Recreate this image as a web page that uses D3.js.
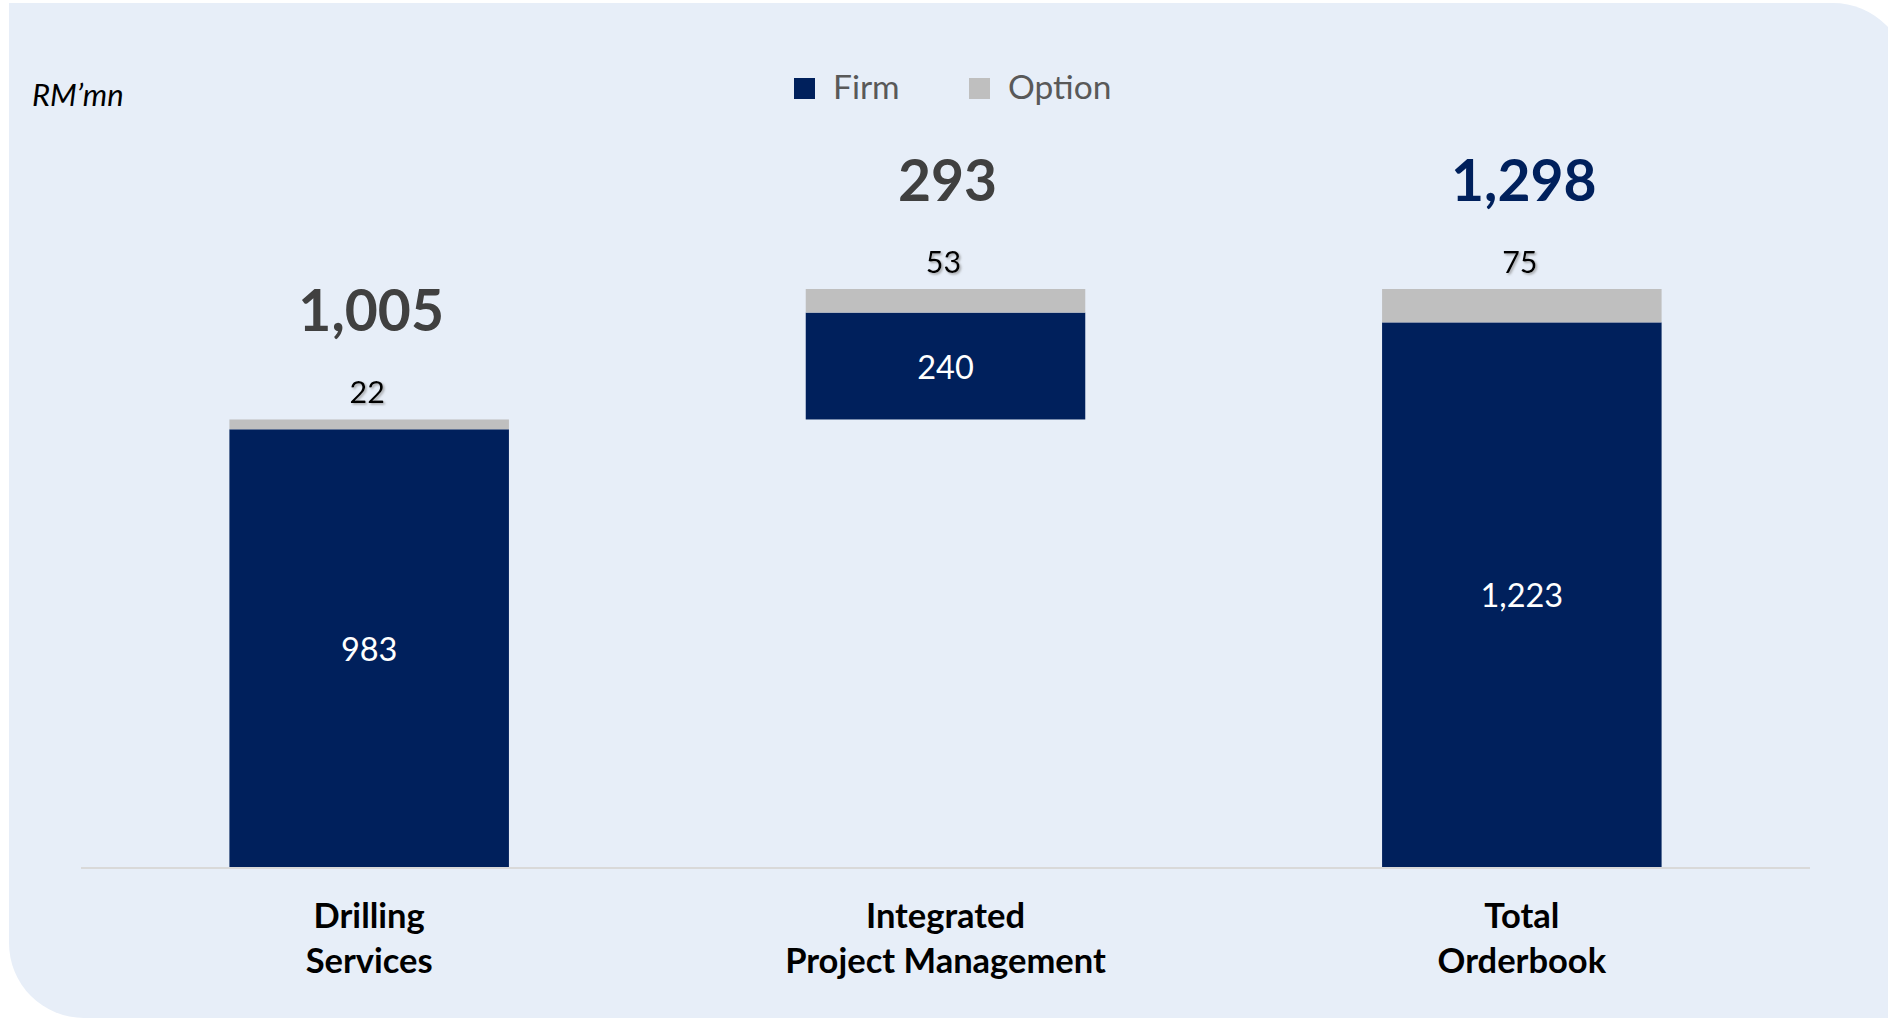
<!DOCTYPE html>
<html>
<head>
<meta charset="utf-8">
<script src="https://cdn.jsdelivr.net/npm/d3@7"></script>
<style>
  html, body { margin: 0; padding: 0; background: #ffffff; }
  svg { display: block; }
  text { font-family: Lato, "Open Sans", sans-serif; }
</style>
</head>
<body>
<svg id="chart" width="1888" height="1020"></svg>
<script>
// Orderbook by segment (RM'mn): firm + option, with IPM floating on top of Drilling
const categoryLines = [["Drilling", "Services"], ["Integrated", "Project Management"], ["Total", "Orderbook"]];
const firm = [983, 240, 1223];
const option = [22, 53, 75];
const floatBase = [0, 1005, 0];
const totals = [1005, 293, 1298];
const seriesNames = ["Firm", "Option"];
const unitLabel = "RM\u2019mn";

const colors = { firm: "#00205C", option: "#BFBFBF", bg: "#E7EEF8", axis: "#D9D9D9" };
const fmt = d3.format(",");

const svg = d3.select("#chart");

// Defs: soft shadow for the option labels
const defs = svg.append("defs");
const shadow = defs.append("filter").attr("id", "lblShadow")
  .attr("x", "-20%").attr("y", "-20%").attr("width", "150%").attr("height", "150%");
shadow.append("feDropShadow").attr("dx", 1.5).attr("dy", 1.5)
  .attr("stdDeviation", 0.8).attr("flood-color", "#808080").attr("flood-opacity", 0.7);

// Background panel: square top-left / bottom-right, rounded top-right / bottom-left
const px0 = 9, py0 = 3, px1 = 1908, py1 = 1018, r = 75;
svg.append("path")
  .attr("d", `M${px0},${py0} L${px1 - r},${py0} A${r},${r} 0 0 1 ${px1},${py0 + r} L${px1},${py1} ` +
             `L${px0 + r},${py1} A${r},${r} 0 0 1 ${px0},${py1 - r} Z`)
  .attr("fill", colors.bg);

// Scales
const x = d3.scaleBand()
  .domain(d3.range(categoryLines.length))
  .range([81, 1810])
  .paddingInner(0.515)
  .paddingOuter(0.2575);

const y = d3.scaleLinear().domain([0, 1400]).range([867, 867 - 1400 * 0.4453]);

const rows = categoryLines.map((lines, i) => ({
  i, lines, base: floatBase[i], firm: firm[i], option: option[i], total: totals[i]
}));

// Category axis line
svg.append("line")
  .attr("x1", x.range()[0]).attr("x2", x.range()[1])
  .attr("y1", y(0) + 1).attr("y2", y(0) + 1)
  .attr("stroke", colors.axis).attr("stroke-width", 2);

// Firm segments
svg.append("g").selectAll("rect").data(rows).join("rect")
  .attr("x", d => x(d.i))
  .attr("width", x.bandwidth())
  .attr("y", d => y(d.base + d.firm))
  .attr("height", d => y(d.base) - y(d.base + d.firm))
  .attr("fill", colors.firm);

// Option segments
svg.append("g").selectAll("rect").data(rows).join("rect")
  .attr("x", d => x(d.i))
  .attr("width", x.bandwidth())
  .attr("y", d => y(d.base + d.firm + d.option))
  .attr("height", d => y(d.base + d.firm) - y(d.base + d.firm + d.option))
  .attr("fill", colors.option);

// Firm value labels, centred inside the bar
svg.append("g").selectAll("text").data(rows).join("text")
  .attr("x", d => x(d.i) + x.bandwidth() / 2)
  .attr("y", d => (y(d.base) + y(d.base + d.firm)) / 2)
  .attr("text-anchor", "middle")
  .attr("dominant-baseline", "central")
  .attr("fill", "#ffffff")
  .attr("font-size", 32.5)
  .text(d => fmt(d.firm));

// Option value labels above the bar
svg.append("g").selectAll("text").data(rows).join("text")
  .attr("x", d => x(d.i) + x.bandwidth() / 2 - 2)
  .attr("y", d => y(d.base + d.firm + d.option) - 16)
  .attr("text-anchor", "middle")
  .attr("fill", "#000000")
  .attr("font-size", 30.5)
  .attr("filter", "url(#lblShadow)")
  .text(d => fmt(d.option));

// Segment totals
svg.append("g").selectAll("text").data(rows).join("text")
  .attr("x", d => x(d.i) + x.bandwidth() / 2 + 2)
  .attr("y", d => y(d.base + d.firm + d.option) - 88)
  .attr("text-anchor", "middle")
  .attr("font-weight", 700)
  .attr("font-size", 57)
  .attr("fill", (d, i) => i === rows.length - 1 ? colors.firm : "#404040")
  .text(d => fmt(d.total));

// Category labels (two lines each)
const cat = svg.append("g").selectAll("text").data(rows).join("text")
  .attr("text-anchor", "middle")
  .attr("font-weight", 700)
  .attr("font-size", 34.5)
  .attr("fill", "#000000");
cat.selectAll("tspan").data(d => d.lines.map(t => ({ t, cx: x(d.i) + x.bandwidth() / 2 })))
  .join("tspan")
  .attr("x", d => d.cx)
  .attr("y", (d, j) => 928 + j * 45)
  .text(d => d.t);

// Unit label
svg.append("text")
  .attr("x", 32).attr("y", 106)
  .attr("font-style", "italic")
  .attr("font-size", 31)
  .attr("fill", "#000000")
  .text(unitLabel);

// Legend
const legendX = [794, 969];
const legend = svg.append("g").selectAll("g").data(seriesNames).join("g")
  .attr("transform", (d, i) => `translate(${legendX[i]},78)`);
legend.append("rect")
  .attr("width", 21).attr("height", 21)
  .attr("fill", (d, i) => i === 0 ? colors.firm : colors.option);
legend.append("text")
  .attr("x", 39).attr("y", 21)
  .attr("font-size", 33.5)
  .attr("fill", "#595959")
  .text(d => d);
</script>
</body>
</html>
